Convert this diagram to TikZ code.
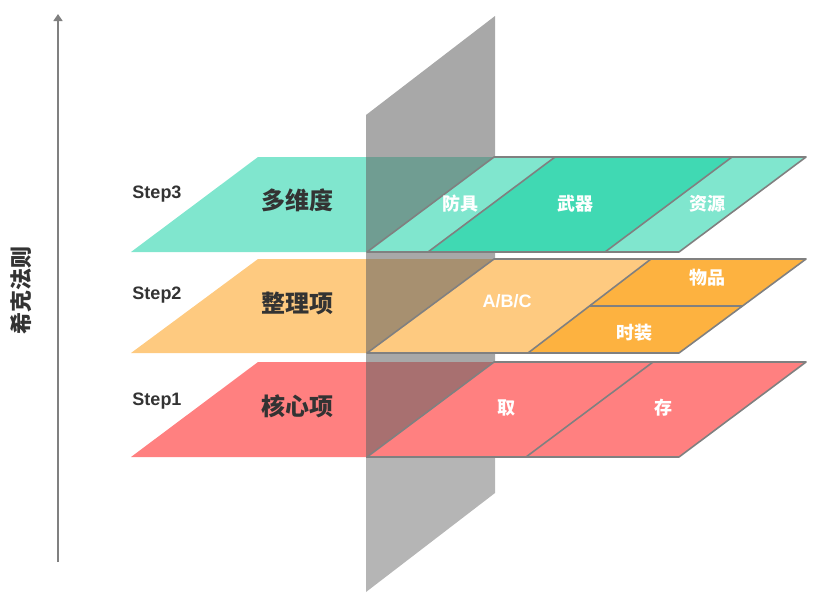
\documentclass[tikz,border=0pt]{standalone}
\usepackage{fontspec}
\setmainfont{Liberation Sans}
\newfontfamily\cjk{Noto Sans CJK SC}
\usetikzlibrary{arrows.meta}
\definecolor{tealL}{RGB}{128,230,206}
\definecolor{tealD}{RGB}{64,217,179}
\definecolor{orgL}{RGB}{254,202,128}
\definecolor{orgD}{RGB}{253,178,64}
\definecolor{redL}{RGB}{255,128,128}
\definecolor{edge}{RGB}{128,128,128}
\definecolor{plane}{RGB}{100,100,100}
\definecolor{txt}{RGB}{51,51,51}
\begin{document}
\begin{tikzpicture}[x=1pt,y=-1pt,
  edgeline/.style={draw=edge,line width=1.6pt,line join=round},
  steplabel/.style={font=\bfseries\fontsize{18}{18}\selectfont,text=txt,inner sep=0pt},
  biglabel/.style={font=\cjk\bfseries\fontsize{24}{24}\selectfont,text=txt,inner sep=0pt},
  cell/.style={font=\cjk\bfseries\fontsize{18}{18}\selectfont,text=white,inner sep=0pt},
  cellx/.style={font=\bfseries\fontsize{18}{18}\selectfont,text=white,inner sep=0pt},
  axislabel/.style={font=\cjk\bfseries\fontsize{22}{22}\selectfont,text=txt,inner sep=0pt,rotate=90}]
\useasboundingbox (0,0) rectangle (818,598);

% axis
\coordinate (axbot) at (58,562);
\coordinate (axtop) at (58,14);
\draw[edge,line width=1.5pt,-{Triangle[width=9pt,length=7pt]}] (axbot) -- (axtop);
\node[axislabel] (axl) at (21,290) {希克法则};

% left (back) parts of layers
\fill[tealL] (131,252) -- (258,157) -- (494,157) -- (367,252) -- cycle;
\fill[orgL]  (131,353) -- (258,259) -- (494,259) -- (367,353) -- cycle;
\fill[redL]  (131,457) -- (258,362) -- (494,362) -- (367,457) -- cycle;

% vertical plane (slightly lighter below the lowest layer)
\begin{scope}
  \clip (300,0) rectangle (520,457);
  \fill[plane,opacity=0.56] (366,115) -- (495,16) -- (495,493) -- (366,592) -- cycle;
\end{scope}
\begin{scope}
  \clip (300,457) rectangle (520,598);
  \fill[plane,opacity=0.48] (366,115) -- (495,16) -- (495,493) -- (366,592) -- cycle;
\end{scope}

% green right part
\fill[tealL] (367,252) -- (494,157) -- (555,157) -- (428,252) -- cycle;
\fill[tealD] (428,252) -- (555,157) -- (732,157) -- (605,252) -- cycle;
\fill[tealL] (605,252) -- (732,157) -- (806,157) -- (679,252) -- cycle;
\draw[edgeline] (367,252) -- (494,157) -- (806,157) -- (679,252) -- cycle;
\draw[edgeline] (428,252) -- (555,157);
\draw[edgeline] (605,252) -- (732,157);

% orange right part
\fill[orgL] (367,353) -- (494,259) -- (651,259) -- (528,353) -- cycle;
\fill[orgD] (528,353) -- (651,259) -- (806,259) -- (679,353) -- cycle;
\draw[edgeline] (367,353) -- (494,259) -- (806,259) -- (679,353) -- cycle;
\draw[edgeline] (528,353) -- (651,259);
\draw[edgeline] (590,306) -- (743,306);

% red right part
\fill[redL] (367,457) -- (494,362) -- (806,362) -- (679,457) -- cycle;
\draw[edgeline] (367,457) -- (494,362) -- (806,362) -- (679,457) -- cycle;
\draw[edgeline] (526,457) -- (653,362);

% labels
\node[steplabel] (s3) at (157,194) {Step3};
\node[steplabel] (s2) at (157,295) {Step2};
\node[steplabel] (s1) at (157,401) {Step1};
\node[biglabel] (b3) at (297,200) {多维度};
\node[biglabel] (b2) at (297,303) {整理项};
\node[biglabel] (b1) at (297,406) {核心项};
\node[cell] (c31) at (460,204) {防具};
\node[cell] (c32) at (575,204) {武器};
\node[cell] (c33) at (707,204) {资源};
\node[cellx] (c21) at (507,301) {A/B/C};
\node[cell] (c22) at (707,278) {物品};
\node[cell] (c23) at (634,333) {时装};
\node[cell] (c11) at (506,408) {取};
\node[cell] (c12) at (663,408) {存};
\end{tikzpicture}
\end{document}
